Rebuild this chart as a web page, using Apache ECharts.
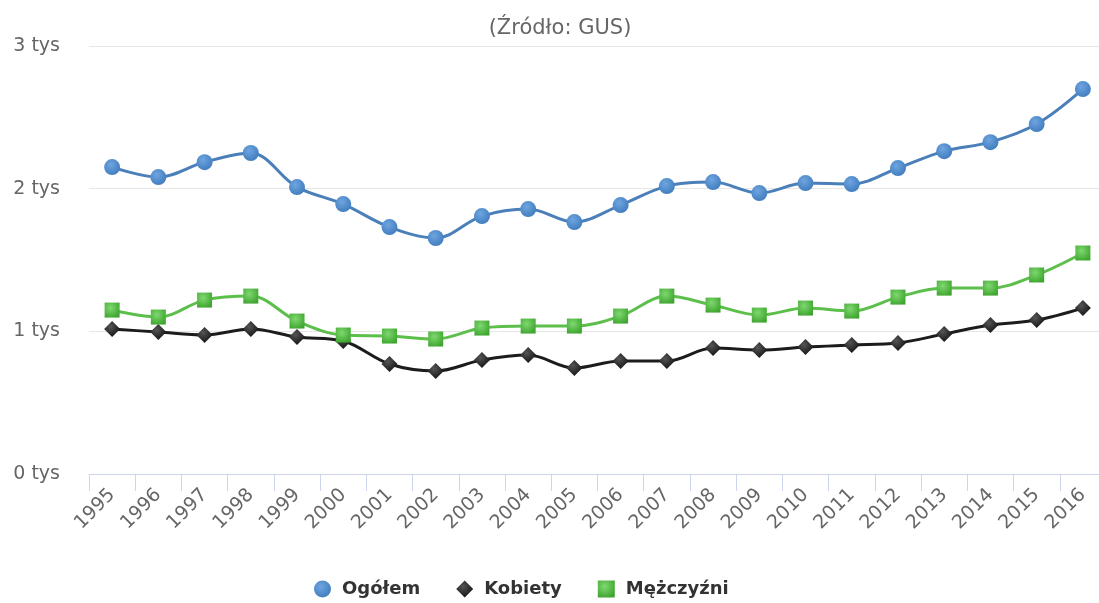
<!DOCTYPE html>
<html>
<head>
<meta charset="utf-8">
<script src="https://cdn.jsdelivr.net/npm/echarts@6/dist/echarts.min.js"></script>
<style>
  html, body { margin: 0; padding: 0; background: #fff; overflow: hidden; width: 1099px; height: 603px; }
  #chart { width: 1106px; height: 603px; }
</style>
</head>
<body>
<div id="chart"></div>
<script>
// dane w tysiącach osób
const years = ["1995", "1996", "1997", "1998", "1999", "2000", "2001", "2002", "2003", "2004", "2005",
  "2006", "2007", "2008", "2009", "2010", "2011", "2012", "2013", "2014", "2015", "2016"];
const ogolem = [2.151, 2.081, 2.186, 2.25, 2.011, 1.892, 1.731, 1.654, 1.808, 1.857, 1.766,
  1.885, 2.018, 2.046, 1.969, 2.039, 2.032, 2.144, 2.263, 2.326, 2.453, 2.698];
const kobiety = [1.016, 0.995, 0.974, 1.016, 0.96, 0.932, 0.771, 0.722, 0.799, 0.834, 0.743,
  0.792, 0.792, 0.883, 0.869, 0.89, 0.904, 0.918, 0.981, 1.044, 1.079, 1.163];
const mezczyzni = [1.149, 1.1, 1.219, 1.247, 1.072, 0.974, 0.967, 0.946, 1.023, 1.037, 1.037,
  1.107, 1.247, 1.184, 1.114, 1.163, 1.142, 1.24, 1.303, 1.303, 1.395, 1.549];
const yTicks = [0, 1, 2, 3];

const font = "DejaVu Sans";

function radial(light, dark) {
  return new echarts.graphic.RadialGradient(0.4, 0.35, 0.7, [
    { offset: 0, color: light },
    { offset: 1, color: dark },
  ]);
}

function line(name, data, lineColor, symbol, size, markerColor) {
  return {
    name: name,
    type: "line",
    data: data,
    smooth: 0.35,
    symbol: symbol,
    symbolSize: size,
    showAllSymbol: true,
    lineStyle: { color: lineColor, width: 3 },
    itemStyle: { color: markerColor, borderWidth: 0 },
    emphasis: { disabled: true },
  };
}

const chart = echarts.init(document.getElementById("chart"));
chart.setOption({
  animation: false,
  textStyle: { fontFamily: font },
  title: {
    text: "(Źródło: GUS)",
    left: 555,
    textAlign: "center",
    top: 13,
    textStyle: { color: "#666", fontSize: 21, fontWeight: "normal", fontFamily: font },
  },
  grid: { left: 89, right: 0, top: 46, height: 428, containLabel: false },
  legend: {
    bottom: 0,
    left: 309,
    itemGap: 36,
    itemWidth: 17,
    itemHeight: 17,
    textStyle: { color: "#333", fontSize: 18, fontWeight: "bold", fontFamily: font, padding: [0, 0, 0, 6] },
    data: [
      { name: "Ogółem", icon: "circle" },
      { name: "Kobiety", icon: "diamond" },
      { name: "Mężczyźni", icon: "rect" },
    ],
  },
  xAxis: {
    type: "category",
    data: years,
    boundaryGap: true,
    axisLine: { lineStyle: { color: "#ccd6eb", width: 1 } },
    axisTick: { show: true, length: 17, lineStyle: { color: "#ccd6eb" } },
    axisLabel: {
      rotate: 45,
      interval: 0,
      color: "#666",
      fontSize: 19,
      margin: 18,
      fontFamily: font,
    },
  },
  yAxis: {
    type: "value",
    min: yTicks[0],
    max: yTicks[yTicks.length - 1],
    interval: 1,
    axisLine: { show: false },
    axisTick: { show: false },
    splitLine: { lineStyle: { color: "#e6e6e6", width: 1 } },
    axisLabel: {
      color: "#666",
      fontSize: 19,
      margin: 29,
      fontFamily: font,
      formatter: (v) => v + " tys",
    },
  },
  series: [
    line("Ogółem", ogolem, "#4a7fba", "circle", 16, radial("#6fa5e0", "#3f7bbd")),
    line("Kobiety", kobiety, "#1c1c1c", "diamond", 16, radial("#555", "#111")),
    line("Mężczyźni", mezczyzni, "#5dbf4b", "rect", 15, radial("#7fd870", "#3ea52f")),
  ],
});
</script>
</body>
</html>
